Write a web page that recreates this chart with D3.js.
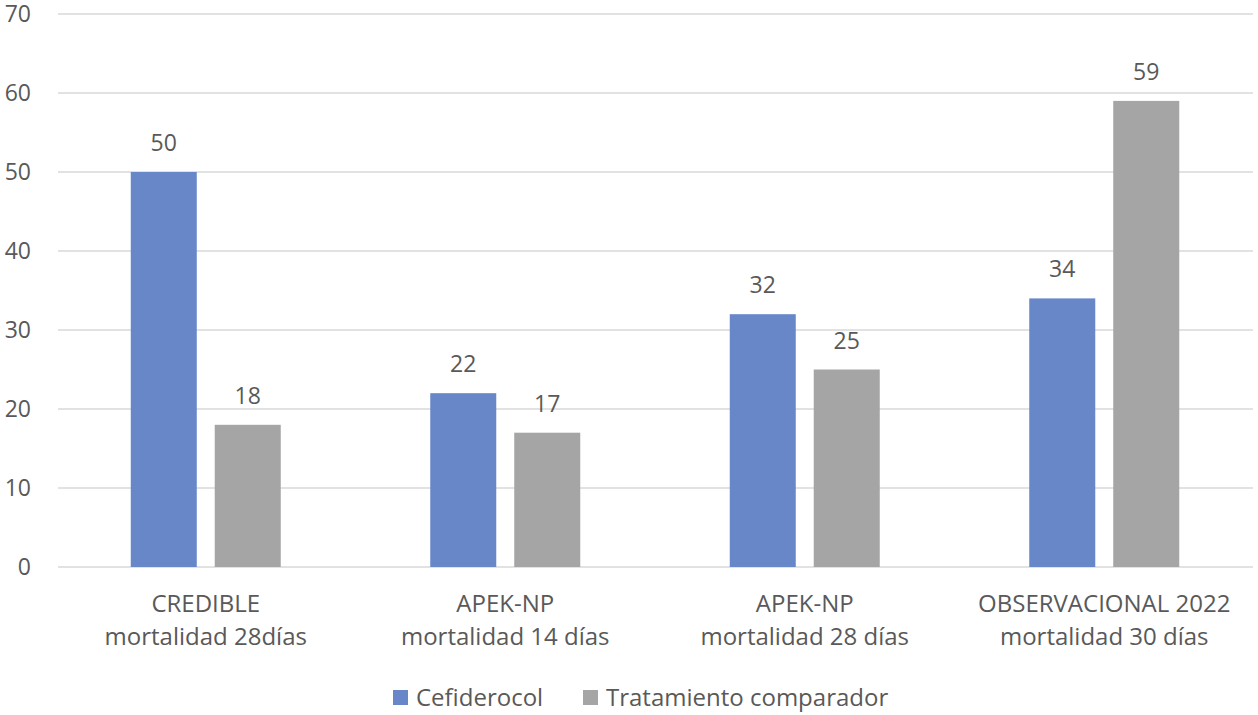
<!DOCTYPE html>
<html lang="es">
<head>
<meta charset="UTF-8">
<title>Mortalidad</title>
<script src="https://d3js.org/d3.v7.min.js"></script>
<style>
  body { margin: 0; background: #fff; }
  text { font-family: "Open Sans", "Noto Sans", sans-serif; fill: #595959; }
</style>
</head>
<body>
<svg id="chart"></svg>
<script>
const categories = [
  ["CREDIBLE", "mortalidad 28días"],
  ["APEK-NP", "mortalidad 14 días"],
  ["APEK-NP", "mortalidad 28 días"],
  ["OBSERVACIONAL 2022", "mortalidad 30 días"]
];
const seriesNames = ["Cefiderocol", "Tratamiento comparador"];
const cefiderocol = [50, 22, 32, 34];
const comparador = [18, 17, 25, 59];
const yTicks = [0, 10, 20, 30, 40, 50, 60, 70];
const colors = ["#6787C9", "#A5A5A5"];

const width = 1258, height = 715;
const m = {l: 56, r: 4, t: 14, b: 148};
const svg = d3.select('#chart').attr('width', width).attr('height', height);

const x = d3.scaleBand().domain(d3.range(categories.length)).range([m.l, width - m.r]).padding(0);
const xi = d3.scaleBand().domain(seriesNames).range([0, x.bandwidth()]).paddingInner(0.214).paddingOuter(0.89);
const y = d3.scaleLinear().domain([0, 70]).range([height - m.b, m.t]);

// gridlines
svg.append('g').selectAll('line').data(yTicks).join('line')
  .attr('x1', 58).attr('x2', width - 5)
  .attr('y1', d => y(d)).attr('y2', d => y(d))
  .attr('stroke', '#D9D9D9').attr('stroke-width', 1.5);

// y labels
svg.append('g').selectAll('text').data(yTicks).join('text')
  .attr('x', 31).attr('y', d => y(d)).attr('dy', '0.36em')
  .attr('text-anchor', 'end').attr('font-size', 23)
  .text(d => d);

const groups = categories.map((c, i) => [
  {s: seriesNames[0], v: cefiderocol[i], i},
  {s: seriesNames[1], v: comparador[i], i}
]).flat();

svg.append('g').selectAll('rect').data(groups).join('rect')
  .attr('x', d => x(d.i) + xi(d.s))
  .attr('width', xi.bandwidth())
  .attr('y', d => y(d.v))
  .attr('height', d => y(0) - y(d.v))
  .attr('fill', d => colors[seriesNames.indexOf(d.s)]);

svg.append('g').selectAll('text').data(groups).join('text')
  .attr('x', d => x(d.i) + xi(d.s) + xi.bandwidth() / 2)
  .attr('y', d => y(d.v) - 21)
  .attr('text-anchor', 'middle').attr('font-size', 23)
  .text(d => d.v);

// x labels
const xl = svg.append('g').selectAll('text').data(categories).join('text')
  .attr('text-anchor', 'middle').attr('font-size', 24)
  .attr('transform', (d, i) => `translate(${x(i) + x.bandwidth() / 2},0)`);
xl.append('tspan').attr('x', 0).attr('y', 612).text(d => d[0]);
xl.append('tspan').attr('x', 0).attr('y', 645).text(d => d[1]);

// legend
const leg = svg.append('g');
const legX = [393, 583];
seriesNames.forEach((s, i) => {
  leg.append('rect').attr('x', legX[i]).attr('y', 690).attr('width', 15).attr('height', 15).attr('fill', colors[i]);
  leg.append('text').attr('x', legX[i] + 23).attr('y', 706).attr('font-size', 24).text(s);
});
</script>
</body>
</html>
